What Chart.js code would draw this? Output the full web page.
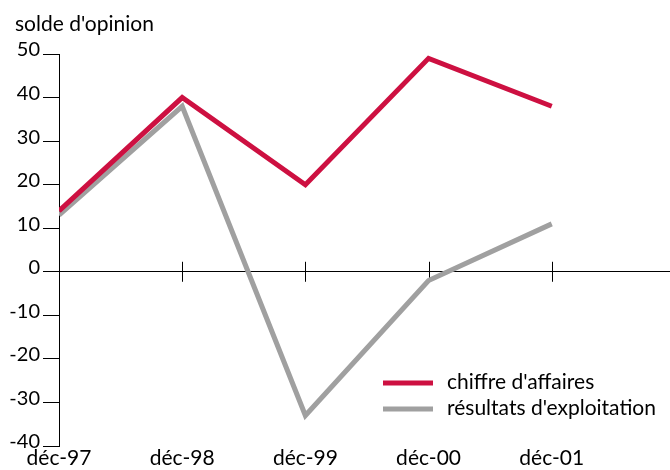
<!DOCTYPE html>
<html lang="fr">
<head>
<meta charset="utf-8">
<title>Solde d'opinion</title>
<script src="https://cdn.jsdelivr.net/npm/chart.js@4.4.1/dist/chart.umd.min.js"></script>
<style>
    html, body { margin: 0; padding: 0; background: #fff; }
    #wrap { position: relative; width: 670px; height: 470px; }
</style>
</head>
<body>
<div id="wrap"><canvas id="chartSolde"></canvas></div>
<script>
// Données
const periodes = ['déc-97', 'déc-98', 'déc-99', 'déc-00', 'déc-01'];
const chiffreAffaires = [14, 40, 20, 49, 38];
const resultatsExploitation = [13, 38, -33, -2, 11];
const yTicks = [-40, -30, -20, -10, 0, 10, 20, 30, 40, 50];

const ROUGE = '#CD1041';
const GRIS = '#A0A0A0';
const FONT = "Lato, 'Open Sans', sans-serif";

document.addEventListener('DOMContentLoaded', function() {

    const toPoints = arr => arr.map((v, i) => ({ x: i, y: v }));

    // ========================================================================
    // Plugin : titre, ticks sur la ligne du zéro, légende
    // ========================================================================
    const decor = {
        id: 'decor',
        beforeDatasetsDraw(chart) {
            const { ctx, scales: { x, y } } = chart;
            const y0 = y.getPixelForValue(0);
            ctx.save();
            ctx.strokeStyle = '#000';
            ctx.lineWidth = 1;
            periodes.forEach((p, i) => {
                const px = Math.round(x.getPixelForValue(i)) + 0.5;
                ctx.beginPath();
                ctx.moveTo(px, y0 - 10);
                ctx.lineTo(px, y0 + 10);
                ctx.stroke();
            });
            ctx.restore();
        },
        afterDraw(chart) {
            const { ctx } = chart;
            ctx.save();
            ctx.fillStyle = '#000';
            ctx.font = '21px ' + FONT;
            ctx.textBaseline = 'alphabetic';
            ctx.textAlign = 'left';
            ctx.fillText("solde d'opinion", 15, 31);

            // légende
            ctx.font = '21px ' + FONT;
            ctx.textBaseline = 'middle';
            chart.data.datasets.forEach((ds, i) => {
                const ly = 383 + i * 26;
                ctx.strokeStyle = ds.borderColor;
                ctx.lineWidth = 5;
                ctx.beginPath();
                ctx.moveTo(383, ly);
                ctx.lineTo(433, ly);
                ctx.stroke();
                ctx.fillText(ds.label, 447, ly - 1);
            });
            ctx.restore();
        }
    };

    new Chart(document.getElementById('chartSolde'), {
        type: 'line',
        data: {
            datasets: [{
                label: "chiffre d'affaires",
                data: toPoints(chiffreAffaires),
                borderColor: ROUGE,
                borderWidth: 5,
                borderJoinStyle: 'miter',
                pointRadius: 0,
                tension: 0
            }, {
                label: "résultats d'exploitation",
                data: toPoints(resultatsExploitation),
                borderColor: GRIS,
                borderWidth: 5,
                borderJoinStyle: 'miter',
                pointRadius: 0,
                tension: 0
            }]
        },
        options: {
            responsive: true,
            maintainAspectRatio: false,
            animation: false,
            layout: { padding: { top: 54, left: 0, right: 0, bottom: 0 } },
            scales: {
                x: {
                    type: 'linear',
                    min: 0,
                    max: 4.96,
                    afterBuildTicks: s => { s.ticks = periodes.map((_, i) => ({ value: i })); },
                    afterFit: s => { s.height = 24; },
                    grid: { display: false, drawTicks: false, tickLength: 0 },
                    border: { display: false },
                    ticks: {
                        autoSkip: false,
                        maxRotation: 0,
                        padding: 2,
                        color: '#000',
                        font: { family: FONT, size: 21, lineHeight: 1 },
                        callback: v => periodes[v]
                    }
                },
                y: {
                    min: -40,
                    max: 50,
                    afterBuildTicks: s => { s.ticks = yTicks.map(v => ({ value: v })); },
                    afterFit: s => { s.width = 59; },
                    grid: {
                        color: c => (c.tick && c.tick.value === 0) ? '#000' : 'rgba(0,0,0,0)',
                        tickColor: '#000',
                        tickLength: 16,
                        lineWidth: 1
                    },
                    border: { display: true, color: '#000', width: 1 },
                    ticks: {
                        padding: 3,
                        labelOffset: -4,
                        color: '#000',
                        font: { family: FONT, size: 20 }
                    }
                }
            },
            plugins: {
                legend: { display: false },
                tooltip: { enabled: false },
                title: { display: false }
            }
        },
        plugins: [decor]
    });
});
</script>
</body>
</html>
